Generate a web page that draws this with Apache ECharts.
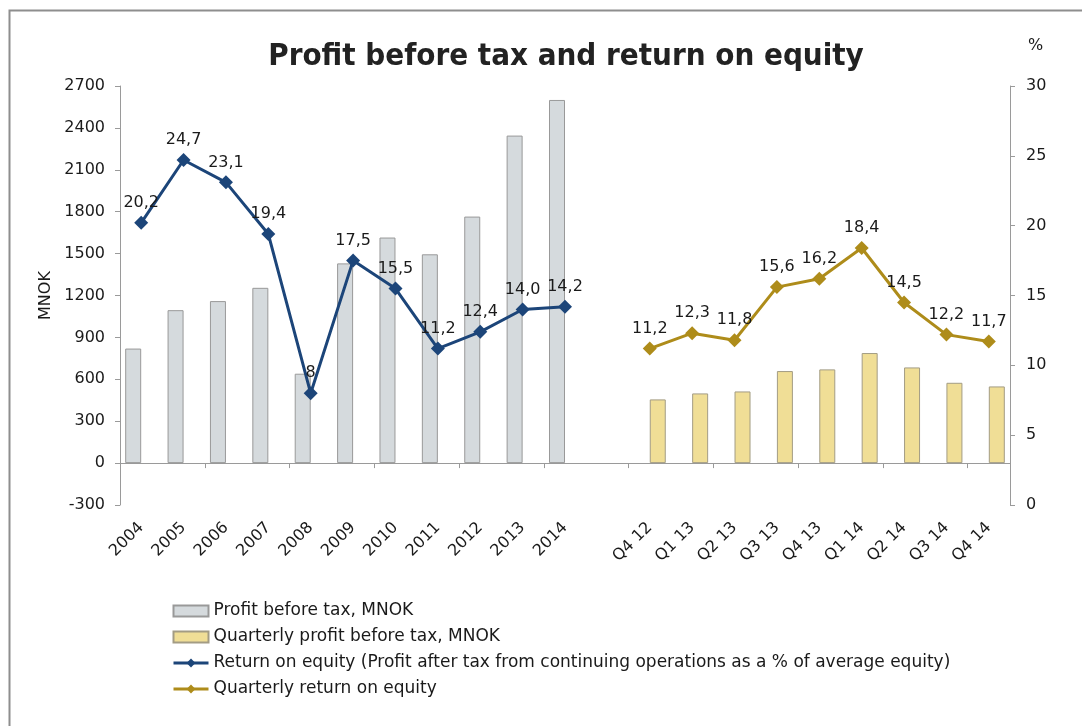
<!DOCTYPE html>
<html>
<head>
<meta charset="utf-8">
<script src="https://cdn.jsdelivr.net/npm/echarts@6/dist/echarts.min.js"></script>
<style>
html,body{margin:0;padding:0;background:#fff;}
#chart{width:1082px;height:726px;}
</style>
</head>
<body>
<div id="chart"></div>
<script>
var years = ['2004','2005','2006','2007','2008','2009','2010','2011','2012','2013','2014'];
var quarters = ['Q4 12','Q1 13','Q2 13','Q3 13','Q4 13','Q1 14','Q2 14','Q3 14','Q4 14'];
var annualProfit = [820, 1095, 1160, 1255, 640, 1430, 1615, 1495, 1765, 2345, 2600];
var quarterlyProfit = [456, 499, 513, 659, 671, 788, 685, 575, 549];
var annualRoe = [20.2, 24.7, 23.1, 19.4, 8, 17.5, 15.5, 11.2, 12.4, 14.0, 14.2];
var annualRoeLabels = ['20,2','24,7','23,1','19,4','8','17,5','15,5','11,2','12,4','14,0','14,2'];
var quarterlyRoe = [11.2, 12.3, 11.8, 15.6, 16.2, 18.4, 14.5, 12.2, 11.7];
var quarterlyRoeLabels = ['11,2','12,3','11,8','15,6','16,2','18,4','14,5','12,2','11,7'];
var leftTicks = {min: -300, max: 2700, interval: 300};
var rightTicks = {min: 0, max: 30, interval: 5};

var gap = [''];
var categories = years.concat(gap, quarters);
function nulls(n){ var a=[]; for(var i=0;i<n;i++) a.push(null); return a; }
var nA = years.length, nQ = quarters.length;
var annualProfitData = annualProfit.concat(nulls(1 + nQ));
var quarterlyProfitData = nulls(nA + 1).concat(quarterlyProfit);
var annualRoeData = annualRoe.concat(nulls(1 + nQ));
var quarterlyRoeData = nulls(nA + 1).concat(quarterlyRoe);

var FONT = '"DejaVu Sans", Verdana, sans-serif';
var TFONT = '"DejaVu Sans Condensed", sans-serif';
var TXT = '#1a1a1a';
var AX = '#9a9a9a';
var BLUE = '#1c4579';
var GOLD = '#ae8c1a';

var chart = echarts.init(document.getElementById('chart'), null, {renderer: 'canvas'});
var option = {
  backgroundColor: '#ffffff',
  animation: false,
  textStyle: {fontFamily: FONT, color: TXT},
  title: {
    text: 'Profit before tax and return on equity',
    left: 561, top: 36, textAlign: 'center',
    textStyle: {fontFamily: TFONT, fontSize: 31, fontWeight: 'bold', color: '#222'}
  },
  graphic: [{
    type: 'rect', silent: true,
    shape: {x: 9.5, y: 10.5, width: 1200, height: 800},
    style: {fill: 'none', stroke: '#8e8e8e', lineWidth: 2}
  }],
  legend: {
    orient: 'vertical', left: 167, top: 596,
    itemWidth: 35, itemHeight: 11, itemGap: 6,
    textStyle: {fontFamily: FONT, fontSize: 17, color: TXT, lineHeight: 20},
    data: [
      {name: 'Profit before tax, MNOK', icon: 'rect'},
      {name: 'Quarterly profit before tax, MNOK', icon: 'rect'},
      {name: 'Return on equity (Profit after tax from continuing operations as a % of average equity)',
        lineStyle: {width: 3}},
      {name: 'Quarterly return on equity', lineStyle: {width: 3}}
    ]
  },
  grid: {left: 120, right: 72, top: 86, bottom: 221, containLabel: false},
  xAxis: [{
    type: 'category', data: categories, boundaryGap: true,
    axisLine: {onZero: true, lineStyle: {color: AX, width: 1}},
    axisTick: {show: true, length: 5, lineStyle: {color: AX}},
    axisLabel: {show: false},
    splitLine: {show: false}
  }, {
    type: 'category', data: categories, position: 'bottom', boundaryGap: true,
    axisLine: {show: false, onZero: false},
    axisTick: {show: false},
    axisLabel: {show: true, rotate: 45, interval: 0, margin: 20,
      fontFamily: FONT, fontSize: 16, color: TXT},
    splitLine: {show: false}
  }],
  yAxis: [{
    type: 'value', min: leftTicks.min, max: leftTicks.max, interval: leftTicks.interval,
    position: 'left',
    name: 'MNOK', nameLocation: 'middle', nameGap: 64, nameRotate: 90,
    nameTextStyle: {fontFamily: FONT, fontSize: 16, color: TXT},
    axisLine: {show: true, onZero: false, lineStyle: {color: AX}},
    axisTick: {show: true, length: 5, lineStyle: {color: AX}},
    axisLabel: {margin: 15, fontFamily: FONT, fontSize: 16, color: TXT,
      formatter: function(v){ return String(v); }},
    splitLine: {show: false}
  }, {
    type: 'value', min: rightTicks.min, max: rightTicks.max, interval: rightTicks.interval,
    position: 'right',
    name: '%', nameLocation: 'end', nameGap: 32,
    nameTextStyle: {fontFamily: FONT, fontSize: 16, color: TXT, align: 'left', padding: [0, 0, 0, 18]},
    axisLine: {show: true, onZero: false, lineStyle: {color: AX}},
    axisTick: {show: true, length: 5, lineStyle: {color: AX}},
    axisLabel: {margin: 16, fontFamily: FONT, fontSize: 16, color: TXT},
    splitLine: {show: false}
  }],
  series: [{
    name: 'Profit before tax, MNOK', type: 'bar', xAxisIndex: 0, yAxisIndex: 0,
    data: annualProfitData, barWidth: 16, barGap: '0%',
    itemStyle: {color: '#d5dadd', borderColor: '#999', borderWidth: 1}
  }, {
    name: 'Quarterly profit before tax, MNOK', type: 'bar', xAxisIndex: 0, yAxisIndex: 0,
    data: quarterlyProfitData, barWidth: 16, barGap: '0%',
    itemStyle: {color: '#f0de96', borderColor: '#a39c84', borderWidth: 1}
  }, {
    name: 'Return on equity (Profit after tax from continuing operations as a % of average equity)',
    type: 'line', xAxisIndex: 0, yAxisIndex: 1, data: annualRoeData,
    symbol: 'diamond', symbolSize: 14, connectNulls: false,
    lineStyle: {color: BLUE, width: 3}, itemStyle: {color: BLUE},
    label: {show: true, position: 'top', distance: 5, fontFamily: FONT, fontSize: 16, color: TXT,
      formatter: function(p){ return annualRoeLabels[p.dataIndex]; }},
    z: 5
  }, {
    name: 'Quarterly return on equity',
    type: 'line', xAxisIndex: 0, yAxisIndex: 1, data: quarterlyRoeData,
    symbol: 'diamond', symbolSize: 14, connectNulls: false,
    lineStyle: {color: GOLD, width: 3}, itemStyle: {color: GOLD},
    label: {show: true, position: 'top', distance: 5, fontFamily: FONT, fontSize: 16, color: TXT,
      formatter: function(p){ return quarterlyRoeLabels[p.dataIndex - nA - 1]; }},
    z: 5
  }]
};
chart.setOption(option);
</script>
</body>
</html>
